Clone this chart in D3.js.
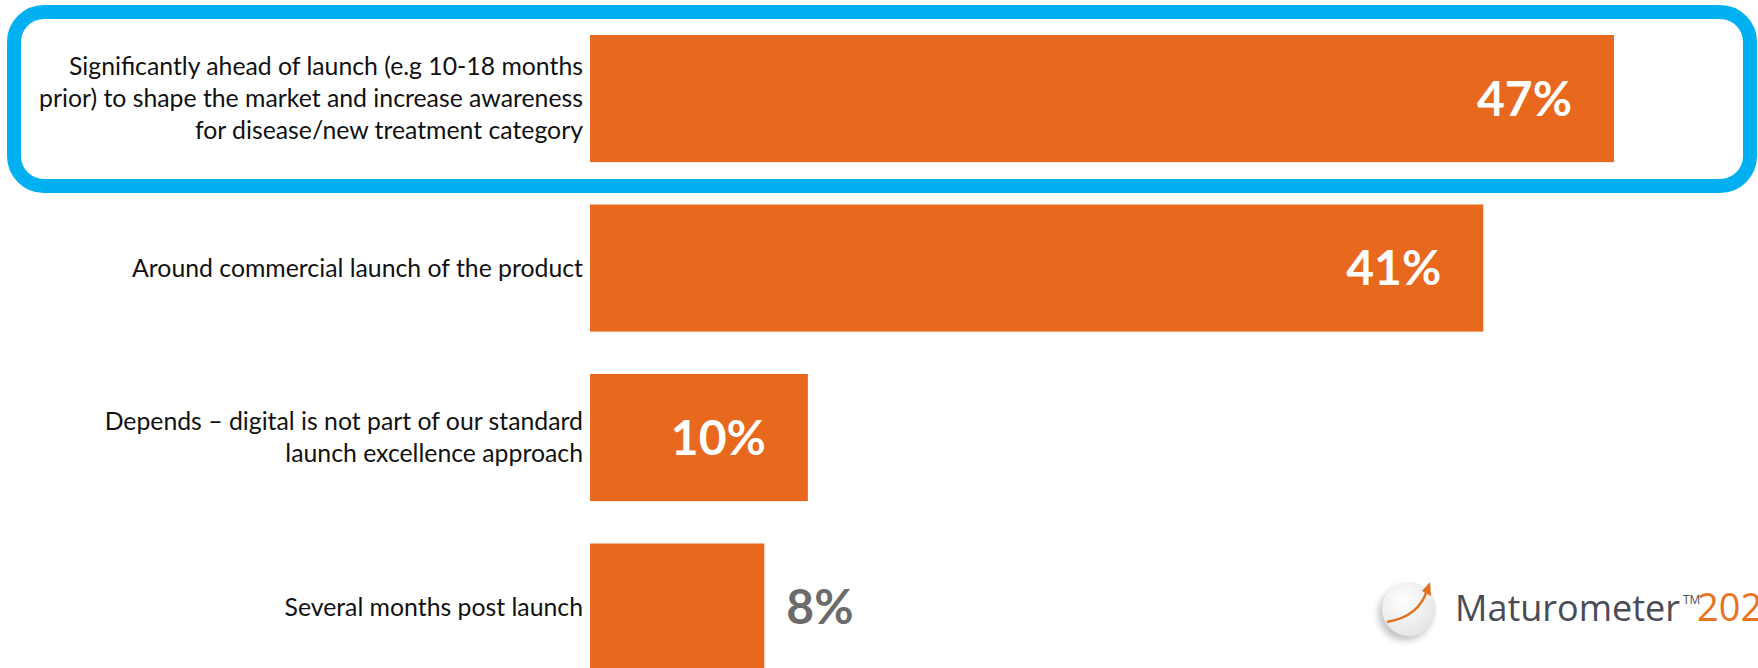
<!DOCTYPE html>
<html>
<head>
<meta charset="utf-8">
<script src="https://cdn.jsdelivr.net/npm/d3@7"></script>
<style>
  html, body { margin: 0; padding: 0; background: #fff; }
  svg { display: block; }
</style>
</head>
<body>
<svg id="chart" width="1758" height="668"></svg>
<script>
// Survey answers: when digital activities start relative to launch
const categories = [
  ["Significantly ahead of launch (e.g 10-18 months", "prior) to shape the market and increase awareness", "for disease/new treatment category"],
  ["Around commercial launch of the product"],
  ["Depends \u2013 digital is not part of our standard", "launch excellence approach"],
  ["Several months post launch"]
];
const values = [47, 41, 10, 8];
const valueLabels = ["47%", "41%", "10%", "8%"];
const highlighted = [true, false, false, false];

const W = 1758, H = 668;
const ORANGE = "#E8681D", BLUE = "#00B0F0";
const svg = d3.select("#chart");

const x = d3.scaleLinear().domain([0, 47]).range([590, 1614]);
const y = d3.scaleBand().domain(d3.range(values.length)).range([35, 670.6]).paddingInner(0.25).paddingOuter(0);

// Highlight frame around the first answer
highlighted.forEach((h, i) => {
  if (!h) return;
  svg.append("rect")
    .attr("x", 14).attr("y", 12)
    .attr("width", 1736).attr("height", 174)
    .attr("rx", 30).attr("ry", 30)
    .attr("fill", "none")
    .attr("stroke", BLUE)
    .attr("stroke-width", 14);
});

// Bars
svg.append("g").selectAll("rect")
  .data(values)
  .join("rect")
  .attr("x", x(0))
  .attr("y", (d, i) => y(i))
  .attr("width", d => x(d) - x(0))
  .attr("height", y.bandwidth())
  .attr("fill", ORANGE);

// Category labels, right-aligned against the bar origin
const labelFont = "Lato, 'Liberation Sans', sans-serif";
const lineH = 32;
const cat = svg.append("g").selectAll("text")
  .data(categories)
  .join("text")
  .attr("text-anchor", "end")
  .attr("font-family", labelFont)
  .attr("font-size", 24.8)
  .attr("fill", "#111111");
cat.each(function(lines, i) {
  const cy = y(i) + y.bandwidth() / 2;
  const top = cy - (lines.length - 1) * lineH / 2;
  d3.select(this).selectAll("tspan")
    .data(lines)
    .join("tspan")
    .attr("x", 583)
    .attr("y", (l, j) => top + j * lineH)
    .attr("dy", "0.35em")
    .text(l => l);
});

// Value labels: inside the bar when it is wide enough, otherwise beside it
const valueG = svg.append("g");
values.forEach((v, i) => {
  const inside = v >= 10;
  valueG.append("text")
    .attr("x", inside ? x(v) - 42 : x(v) + 22)
    .attr("y", y(i) + y.bandwidth() / 2)
    .attr("dy", "0.36em")
    .attr("text-anchor", inside ? "end" : "start")
    .attr("font-family", "Lato, sans-serif")
    .attr("font-weight", 700)
    .attr("font-size", 48)
    .attr("fill", inside ? "#ffffff" : "#6b6b6b")
    .text(valueLabels[i]);
});

// Maturometer logo
const defs = svg.append("defs");
const rg = defs.append("radialGradient").attr("id", "disc").attr("cx", "40%").attr("cy", "35%").attr("r", "70%");
rg.append("stop").attr("offset", "0%").attr("stop-color", "#ffffff");
rg.append("stop").attr("offset", "100%").attr("stop-color", "#e4e4e4");
const blur = defs.append("filter").attr("id", "shadow").attr("x", "-50%").attr("y", "-50%").attr("width", "200%").attr("height", "200%");
blur.append("feGaussianBlur").attr("stdDeviation", 3);

const logo = svg.append("g").attr("transform", "translate(1409,609)");
logo.append("circle").attr("cx", -4).attr("cy", 5).attr("r", 27).attr("fill", "#c8c8c8").attr("filter", "url(#shadow)");
logo.append("circle").attr("r", 27).attr("fill", "url(#disc)");
logo.append("path")
  .attr("d", "M-22,13 C-5,10 12,2 18,-19")
  .attr("fill", "none").attr("stroke", "#E07020").attr("stroke-width", 2.5);
logo.append("path")
  .attr("d", "M21,-27 L22,-13 L13,-18 Z")
  .attr("fill", "#E07020");

const brand = svg.append("text")
  .attr("x", 1455).attr("y", 621)
  .attr("font-family", "'Open Sans', sans-serif")
  .attr("font-size", 36)
  .attr("fill", "#4a4b55");
brand.append("tspan").text("Maturometer");
brand.append("tspan").attr("font-size", 12).attr("dy", -17).attr("dx", 3).text("TM");

// Edition year runs to the right edge of the page
svg.append("text")
  .attr("x", 1697).attr("y", 621)
  .attr("font-family", "'Liberation Sans Narrow', 'Open Sans', sans-serif")
  .attr("font-size", 38)
  .attr("fill", "#E8741F")
  .text("2022");
</script>
</body>
</html>
